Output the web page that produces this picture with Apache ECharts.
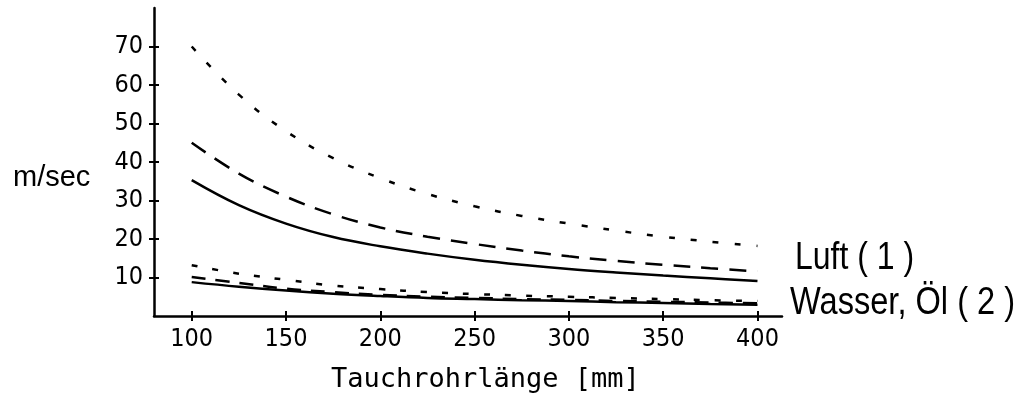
<!DOCTYPE html>
<html>
<head>
<meta charset="utf-8">
<script src="https://cdn.jsdelivr.net/npm/echarts@6/dist/echarts.min.js"></script>
<style>
  html, body { margin: 0; padding: 0; background: #fff; }
  #chart { width: 1031px; height: 396px; }
</style>
</head>
<body>
<div id="chart"></div>
<script>
// Tauchrohrlänge [mm]
const lengths = [100, 125, 150, 175, 200, 225, 250, 275, 300, 325, 350, 375, 400];
// Luft (1)
const luftDotted = [70, 57.5, 48, 41, 35.8, 31.7, 28.5, 26.0, 24.0, 22.2, 20.6, 19.3, 18.2];
const luftDashed = [45, 37.0, 31.0, 26.4, 23.0, 20.6, 18.7, 17.0, 15.5, 14.3, 13.3, 12.4, 11.6];
const luftSolid = [35.3, 28.8, 24.0, 20.5, 18.1, 16.2, 14.6, 13.3, 12.2, 11.3, 10.5, 9.8, 9.1];
// Wasser, Öl (2)
const wasserDotted = [13.2, 11.0, 9.4, 7.9, 7.0, 6.2, 5.7, 5.3, 5.0, 4.7, 4.4, 4.1, 3.9];
const wasserDashed = [10.1, 8.6, 7.1, 6.2, 5.5, 5.0, 4.7, 4.4, 4.2, 3.9, 3.7, 3.5, 3.3];
const wasserSolid = [8.8, 7.6, 6.6, 5.8, 5.2, 4.7, 4.4, 4.1, 3.9, 3.6, 3.4, 3.1, 2.9];
// tick labels
const xTicks = [100, 150, 200, 250, 300, 350, 400];
const yTicks = [10, 20, 30, 40, 50, 60, 70];

const condensed = '"DejaVu Sans Condensed", "DejaVu Sans", sans-serif';

const pair = vals => lengths.map((x, i) => [x, vals[i]]);

const makeLine = (name, vals, dash) => ({
  name,
  type: 'line',
  data: pair(vals),
  smooth: 0.4,
  symbol: 'none',
  lineStyle: { color: '#000', width: 2.5, type: dash },
  xAxisIndex: 0,
  yAxisIndex: 0,
});

const xBase = {
  type: 'value',
  min: 80,
  max: 413,
  position: 'bottom',
  splitLine: { show: false },
};
const yBase = {
  type: 'value',
  min: 0,
  max: 80,
  position: 'left',
  splitLine: { show: false },
};

const option = {
  animation: false,
  grid: { left: 154, right: 249, top: 8, bottom: 80 },
  xAxis: [
    Object.assign({}, xBase, {
      axisLine: { show: true, lineStyle: { color: '#000', width: 2.5 } },
      axisTick: { show: true, customValues: xTicks, length: 5, lineStyle: { color: '#000', width: 2 } },
      axisLabel: {
        customValues: xTicks,
        margin: 11,
        color: '#000',
        fontSize: 25,
        fontFamily: condensed,
      },
    }),
    Object.assign({}, xBase, {
      axisLine: { show: false },
      axisTick: { show: true, inside: true, customValues: xTicks, length: 5, lineStyle: { color: '#000', width: 2 } },
      axisLabel: { show: false },
    }),
  ],
  yAxis: [
    Object.assign({}, yBase, {
      axisLine: { show: true, lineStyle: { color: '#000', width: 2.5 } },
      axisTick: { show: true, customValues: yTicks, length: 5, lineStyle: { color: '#000', width: 2 } },
      axisLabel: {
        customValues: yTicks,
        margin: 11,
        color: '#000',
        fontSize: 25,
        fontFamily: condensed,
      },
    }),
    Object.assign({}, yBase, {
      axisLine: { show: false },
      axisTick: { show: true, inside: true, customValues: yTicks, length: 5, lineStyle: { color: '#000', width: 2 } },
      axisLabel: { show: false },
    }),
  ],
  series: [
    makeLine('Luft punktiert', luftDotted, [6, 16]),
    makeLine('Luft gestrichelt', luftDashed, [17, 11]),
    makeLine('Luft', luftSolid, 'solid'),
    makeLine('Wasser punktiert', wasserDotted, [6, 15]),
    makeLine('Wasser gestrichelt', wasserDashed, [14, 10]),
    makeLine('Wasser', wasserSolid, 'solid'),
  ],
  graphic: [
    {
      type: 'text', left: 13, top: 163,
      style: { text: 'm/sec', fill: '#000', font: '29px "Liberation Sans", Arial, sans-serif' },
    },
    {
      type: 'text', left: 795, top: 239, scaleY: 1.2,
      style: { text: 'Luft ( 1 )', fill: '#000', font: '32px "Liberation Sans", Arial, sans-serif' },
    },
    {
      type: 'text', left: 790, top: 283, scaleY: 1.2,
      style: { text: 'Wasser, Öl ( 2 )', fill: '#000', font: '32.6px "Liberation Sans", Arial, sans-serif' },
    },
    {
      type: 'text', left: 331, top: 366,
      style: { text: 'Tauchrohrlänge [mm]', fill: '#000', font: '27px "DejaVu Sans Mono", monospace' },
    },
  ],
};

const myChart = echarts.init(document.getElementById('chart'));
myChart.setOption(option);
</script>
</body>
</html>
